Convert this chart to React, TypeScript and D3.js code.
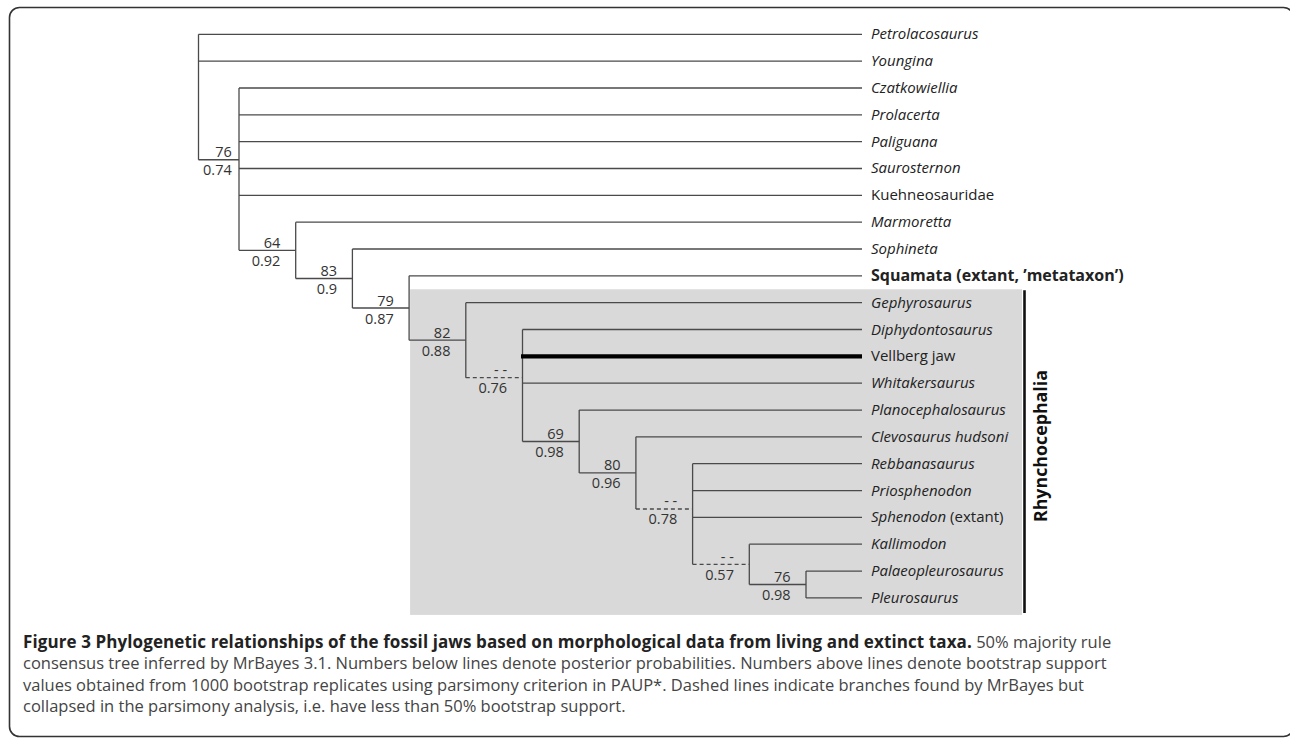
import React from 'react';
import * as d3 from 'd3';

// tips, top to bottom
const taxa = [
  'Petrolacosaurus', 'Youngina', 'Czatkowiellia', 'Prolacerta', 'Paliguana', 'Saurosternon',
  'Kuehneosauridae', 'Marmoretta', 'Sophineta', 'Squamata (extant, ’metataxon’)', 'Gephyrosaurus',
  'Diphydontosaurus', 'Vellberg jaw', 'Whitakersaurus', 'Planocephalosaurus', 'Clevosaurus hudsoni',
  'Rebbanasaurus', 'Priosphenodon', 'Sphenodon (extant)', 'Kallimodon', 'Palaeopleurosaurus', 'Pleurosaurus',
];
// i = italic, r = roman, b = bold, ir = italic genus + roman remark
const taxonFace = ['i', 'i', 'i', 'i', 'i', 'i', 'r', 'i', 'i', 'b', 'i', 'i', 'r', 'i', 'i', 'i', 'i', 'i', 'ir', 'i', 'i', 'i'];
const taxonParent = ['root', 'root', 'A', 'A', 'A', 'A', 'A', 'B', 'C', 'D', 'E', 'F', 'F', 'F', 'G', 'H', 'I', 'I', 'I', 'J', 'K', 'K'];

// internal clades
const cladeIds = ['root', 'A', 'B', 'C', 'D', 'E', 'F', 'G', 'H', 'I', 'J', 'K'];
const cladeParent = [null, 'root', 'A', 'B', 'C', 'D', 'E', 'F', 'G', 'H', 'I', 'J'];
const bootstrap = ['', '76', '64', '83', '79', '82', '- -', '69', '80', '- -', '- -', '76'];
const posterior = ['', '0.74', '0.92', '0.9', '0.87', '0.88', '0.76', '0.98', '0.96', '0.78', '0.57', '0.98'];
const collapsed = [false, false, false, false, false, false, true, false, false, true, true, false];

const highlighted = 'Vellberg jaw';
const groupLabel = 'Rhynchocephalia';
const groupFirst = 'Gephyrosaurus';

const captionBold = 'Figure 3 Phylogenetic relationships of the fossil jaws based on morphological data from living and extinct taxa.';
const captionLines = [
  ' 50% majority rule',
  'consensus tree inferred by MrBayes 3.1. Numbers below lines denote posterior probabilities. Numbers above lines denote bootstrap support',
  'values obtained from 1000 bootstrap replicates using parsimony criterion in PAUP*. Dashed lines indicate branches found by MrBayes but',
  'collapsed in the parsimony analysis, i.e. have less than 50% bootstrap support.',
];

const W = 1290;
const H = 739;
const FONT = '"Open Sans", sans-serif';
const LINE = '#4a4a4a';

const App = () => {
  const rows = [
    ...cladeIds.map((id, i) => ({ id, parent: cladeParent[i], idx: -1, ci: i })),
    ...taxa.map((name, i) => ({ id: name, parent: taxonParent[i], idx: i, ci: -1 })),
  ];
  const root: any = d3.stratify<any>().id((d) => d.id).parentId((d) => d.parent)(rows);

  root.eachAfter((n: any) => {
    n.minIdx = n.children ? d3.min(n.children, (c: any) => c.minIdx) : n.data.idx;
  });
  root.sort((a: any, b: any) => a.minIdx - b.minIdx);

  const yScale = d3.scaleLinear().domain([0, taxa.length - 1]).range([34.3, 597.9]);
  const xScale = d3.scaleLinear().domain([0, 1, 11]).range([198.5, 239, 806]);
  const tipX = 862;

  root.eachAfter((n: any) => {
    if (n.children) {
      n.y = d3.mean(n.children, (c: any) => c.y);
      n.x = xScale(n.depth);
    } else {
      n.y = yScale(n.data.idx);
      n.x = tipX;
    }
  });

  const nodes = root.descendants();
  const internal = nodes.filter((n: any) => n.children);
  const branches = nodes.filter((n: any) => n.parent);

  const cladeD = internal.find((n: any) => n.data.id === 'D');
  const gi = taxa.indexOf(groupFirst);
  const boxTop = (yScale(gi - 1) + yScale(gi)) / 2;
  const boxBottom = yScale(taxa.length - 1) + 17;
  const boxLeft = cladeD.x + 1;
  const boxRight = 1022;

  return (
    <div style={{ position: 'absolute', left: 0, top: 0 }}>
      <svg width={W} height={H} style={{ display: 'block' }} fontFamily={FONT}>
        <rect x={0} y={0} width={W} height={H} fill="#fff" />
        <rect x={9.5} y={7.5} width={1284} height={729} rx={10} fill="none" stroke="#333" strokeWidth={1.6} />

        <rect x={boxLeft} y={boxTop} width={boxRight - boxLeft} height={boxBottom - boxTop} fill="#d9d9d9" />
        <line x1={boxRight + 2.5} x2={boxRight + 2.5} y1={boxTop + 1} y2={boxBottom - 2} stroke="#111" strokeWidth={2.6} />
        <text
          transform={`translate(1046.5,${(boxTop + boxBottom) / 2 - 6}) rotate(-90)`}
          textAnchor="middle"
          fontWeight="bold"
          fontSize={17.8}
          fill="#111"
        >
          {groupLabel}
        </text>

        {internal.map((n: any) => (
          <line
            key={'v' + n.data.id}
            x1={n.x}
            x2={n.x}
            y1={n.children[0].y}
            y2={n.children[n.children.length - 1].y}
            stroke={LINE}
            strokeWidth={1.3}
          />
        ))}

        {branches.map((n: any) => {
          const ci = n.data.ci;
          const dashed = ci >= 0 && collapsed[ci];
          const thick = n.data.id === highlighted;
          return (
            <line
              key={'h' + n.data.id}
              x1={n.parent.x - (thick ? 1.5 : 0)}
              x2={n.x}
              y1={n.y}
              y2={n.y}
              stroke={thick ? '#000' : LINE}
              strokeWidth={thick ? 4.2 : 1.3}
              strokeDasharray={dashed ? '4 3' : undefined}
            />
          );
        })}

        {internal
          .filter((n: any) => n.parent)
          .map((n: any) => {
            const ci = n.data.ci;
            const xe = (n.parent.x + n.x) / 2 + 13;
            return (
              <g key={'s' + n.data.id} fontSize={14.5} fill="#333" textAnchor="end">
                <text x={xe} y={n.y - 2.5}>{bootstrap[ci]}</text>
                <text x={xe} y={n.y + 15.5}>{posterior[ci]}</text>
              </g>
            );
          })}

        {nodes
          .filter((n: any) => !n.children)
          .map((n: any) => {
            const i = n.data.idx;
            const face = taxonFace[i];
            const name = taxa[i];
            const x = tipX + 9;
            const y = n.y + 5;
            if (face === 'ir') {
              const k = name.indexOf(' ');
              return (
                <text key={'t' + i} x={x} y={y} fontSize={15} fill="#222">
                  <tspan fontStyle="italic">{name.slice(0, k)}</tspan>
                  <tspan>{name.slice(k)}</tspan>
                </text>
              );
            }
            return (
              <text
                key={'t' + i}
                x={x}
                y={y}
                fontSize={face === 'b' ? 16 : 15}
                fill="#222"
                fontStyle={face === 'i' ? 'italic' : 'normal'}
                fontWeight={face === 'b' ? 'bold' : 'normal'}
              >
                {name}
              </text>
            );
          })}

        <g fontSize={16.5} fill="#444">
          {captionLines.map((t, i) => (
            <text key={'c' + i} x={23} y={648 + i * 21.3}>
              {i === 0 && (
                <tspan fontWeight="bold" fill="#222" fontSize={17} letterSpacing={0.1}>
                  {captionBold}
                </tspan>
              )}
              {t}
            </text>
          ))}
        </g>
      </svg>
    </div>
  );
};

export default App;
